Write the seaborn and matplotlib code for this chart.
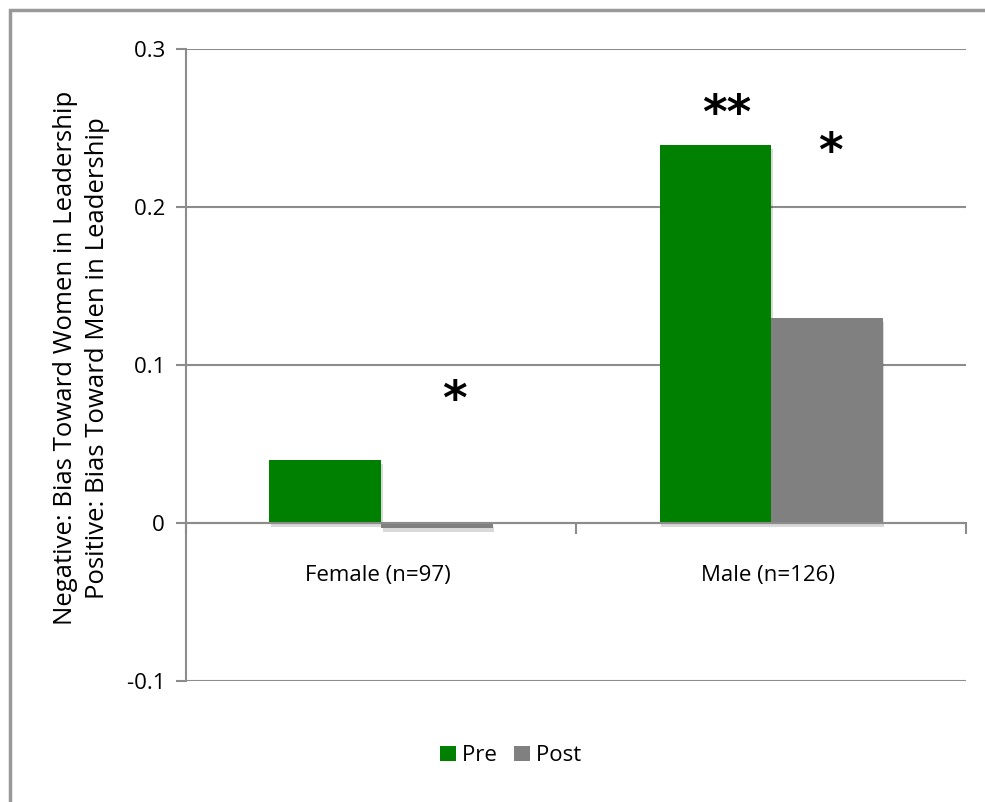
import matplotlib
matplotlib.use("Agg")
import matplotlib.pyplot as plt
import matplotlib.patheffects as pe
from matplotlib.patches import Rectangle
import seaborn as sns
import pandas as pd

groups = ["Female (n=97) ", "Male (n=126) "]
phases = ["Pre ", "Post "]
pre_values = [0.04, 0.239]
post_values = [-0.003, 0.13]
y_ticks = [-0.1, 0, 0.1, 0.2, 0.3]
y_tick_labels = ["-0.1 ", "0 ", "0.1 ", "0.2 ", "0.3 "]
ylabel_lines = ["Negative: Bias Toward Women in Leadership ",
                "Positive: Bias Toward Men in Leadership "]
# significance marks: group, phase, text, height of mark centre
sig_groups = ["Female (n=97) ", "Male (n=126) ", "Male (n=126) "]
sig_phases = ["Post ", "Pre ", "Post "]
sig_texts = ["*", "**", "*"]
sig_heights = [0.083, 0.264, 0.240]

df = pd.DataFrame({
    "group": groups * 2,
    "phase": [phases[0]] * 2 + [phases[1]] * 2,
    "value": pre_values + post_values,
})

sns.set_theme(style="white")
plt.rcParams["font.family"] = ["Open Sans", "DejaVu Sans"]
plt.rcParams["text.color"] = "black"
plt.rcParams["xtick.color"] = "black"
plt.rcParams["ytick.color"] = "black"

fig = plt.figure(figsize=(9.85, 8.02), dpi=100)
ax = fig.add_axes([0.189, 0.151, 0.792, 0.788])

grey = "#8c8c8c"
sns.barplot(data=df, x="group", y="value", hue="phase",
            palette=["#008000", "#808080"], width=0.573, ax=ax,
            saturation=1, legend=True, zorder=3)

for p in ax.patches:
    p.set_path_effects([pe.SimplePatchShadow(offset=(1, -3), alpha=0.15, shadow_rgbFace="#000000"), pe.Normal()])
    p.set_linewidth(0)

ax.set_xlim(-0.5, 1.5)
ax.set_ylim(-0.1, 0.3)
ax.set_yticks(y_ticks)
ax.set_yticklabels(y_tick_labels, fontsize=16)
ax.yaxis.grid(True, color=grey, linewidth=1.5, zorder=0)
ax.set_axisbelow(True)

ax.set_xticks([-0.5, 0.5, 1.5])
ax.set_xticklabels([])
ax.set_xticks([0, 1], minor=True)
ax.set_xticklabels(groups, minor=True)
ax.tick_params(axis="x", which="major", direction="out", length=8, width=1.5, color=grey, bottom=True)
ax.tick_params(axis="x", which="minor", length=0, pad=30, labelsize=16, labelcolor="black")
ax.tick_params(axis="y", direction="out", length=7, width=1.5, color=grey, left=True, pad=4,
               labelcolor="black")

for s in ["top", "right"]:
    ax.spines[s].set_visible(False)
ax.spines["left"].set_color(grey)
ax.spines["left"].set_linewidth(1.5)
ax.spines["bottom"].set_position(("data", 0))
ax.spines["bottom"].set_color(grey)
ax.spines["bottom"].set_linewidth(1.5)
ax.spines["bottom"].set_zorder(4)

ax.set_xlabel("")
ax.set_ylabel("")
fig.text(0.066, 0.558, ylabel_lines[0], rotation=90, ha="center", va="center", fontsize=18.5, color="black")
fig.text(0.099, 0.558, ylabel_lines[1], rotation=90, ha="center", va="center", fontsize=18.5, color="black")

# significance marks above bars
n_groups = len(groups)
x_shift = {("Female (n=97) ", "Post "): 0.045, ("Male (n=126) ", "Pre "): 0.03, ("Male (n=126) ", "Post "): 0.008}
for g, ph, mark, h in zip(sig_groups, sig_phases, sig_texts, sig_heights):
    gi = groups.index(g)
    pi = phases.index(ph)
    bar = ax.patches[pi * n_groups + gi]
    cx = bar.get_x() + bar.get_width() / 2 + x_shift[(g, ph)]
    ax.text(cx, h - 0.006, mark, ha="center", va="center", fontsize=34,
            fontweight="bold", family="DejaVu Sans", color="black")

leg = ax.legend(loc="upper center", bbox_to_anchor=(0.42, -0.07), ncol=2, frameon=False,
                fontsize=16, handlelength=0.7, handleheight=0.7, handletextpad=0.3,
                columnspacing=0.5)
for h in leg.legend_handles:
    h.set_path_effects([])
for t in leg.get_texts():
    t.set_color("black")

fig.patches.append(Rectangle((10 / 985, -0.1), 1.2, 1 - 10 / 802 + 0.1, transform=fig.transFigure,
                             fill=False, edgecolor="#999999", linewidth=2.5))

fig.savefig("out.png", dpi=100)
